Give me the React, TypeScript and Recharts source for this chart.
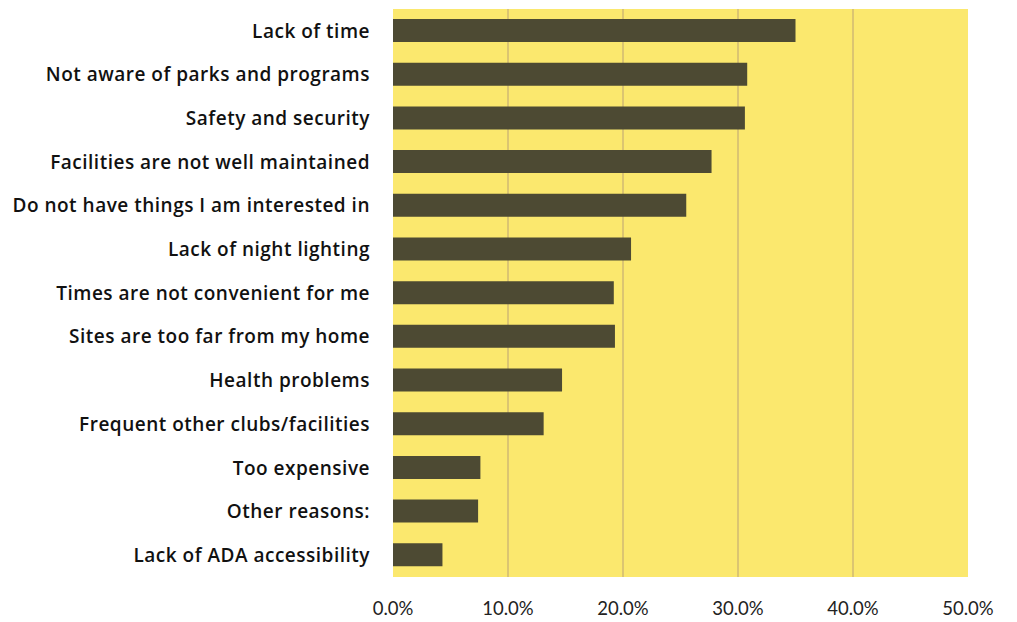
import React from "react";
import { BarChart, Bar, XAxis, YAxis, CartesianGrid } from "recharts";

const categories = [
  "Lack of time",
  "Not aware of parks and programs",
  "Safety and security",
  "Facilities are not well maintained",
  "Do not have things I am interested in",
  "Lack of night lighting",
  "Times are not convenient for me",
  "Sites are too far from my home",
  "Health problems",
  "Frequent other clubs/facilities",
  "Too expensive",
  "Other reasons:",
  "Lack of ADA accessibility",
];

const values = [35.0, 30.8, 30.6, 27.7, 25.5, 20.7, 19.2, 19.3, 14.7, 13.1, 7.6, 7.4, 4.3];

const xTicks = [0, 10, 20, 30, 40, 50];
const gridValues = [10, 20, 30, 40];

const data = categories.map((name, i) => ({ name, value: values[i] }));

export default function App() {
  return (
    <div style={{ position: "absolute", left: 0, top: 0, width: 1017, height: 622, background: "#fff" }}>
      <BarChart
        width={1017}
        height={622}
        data={data}
        layout="vertical"
        margin={{ top: 9, right: 49, bottom: 0, left: 0 }}
        barSize={23}
      >
        <CartesianGrid
          horizontal={false}
          vertical={true}
          verticalValues={gridValues}
          fill="#FBE86E"
          fillOpacity={1}
          stroke="#C6AD74"
          strokeWidth={1.2}
        />
        <XAxis
          type="number"
          domain={[0, 50]}
          ticks={xTicks}
          tickFormatter={(v: number) => `${v.toFixed(1)}%`}
          axisLine={false}
          tickLine={false}
          tickSize={0}
          tickMargin={25}
          height={45}
          tick={{ fill: "#222", fontSize: 18.5, fontFamily: "Lato" }}
          interval={0}
        />
        <YAxis
          type="category"
          dataKey="name"
          width={393}
          axisLine={false}
          tickLine={false}
          tickSize={0}
          tickMargin={23}
          interval={0}
          tick={{ fill: "#111", fontSize: 19, fontWeight: 600, fontFamily: "Open Sans", letterSpacing: 0.5 }}
        />
        <Bar dataKey="value" fill="#4D4A33" isAnimationActive={false} />
      </BarChart>
    </div>
  );
}
